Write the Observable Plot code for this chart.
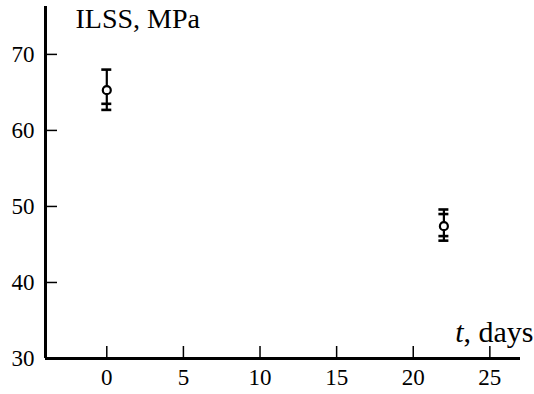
<!DOCTYPE html>
<html>
<head>
<meta charset="utf-8">
<script src="https://cdn.jsdelivr.net/npm/d3@7"></script>
<script src="https://cdn.jsdelivr.net/npm/@observablehq/plot@0.6"></script>
<style>
  html, body { margin: 0; padding: 0; background: #fff; }
</style>
</head>
<body>
<div id="chart"></div>
<script>
const days = [0, 22];
const ilss = [65.3, 47.4];
const errLow = [62.7, 45.5];
const errHigh = [68.0, 49.6];
const errLow2 = [63.5, 46.1];
const errHigh2 = [null, 49.0];
const xTicks = [0, 5, 10, 15, 20, 25];
const yTicks = [30, 40, 50, 60, 70];
const yLabel = "ILSS, MPa";
const xLabelVar = "t";
const xLabelRest = ", days";

const xDomain = [-4, 27];
const yDomain = [30, 76.3];

const data = days.map((d, i) => ({day: d, v: ilss[i], lo: errLow[i], hi: errHigh[i]}));
const caps = days.flatMap((d, i) => [
  {day: d, y: errLow[i]}, {day: d, y: errHigh[i]},
  {day: d, y: errLow2[i]}, {day: d, y: errHigh2[i]}
]).filter(c => c.y != null);

const font = "'Liberation Serif', 'Times New Roman', serif";

const plot = Plot.plot({
  width: 534,
  height: 394,
  marginLeft: 45,
  marginRight: 14,
  marginTop: 6,
  marginBottom: 36,
  style: {fontFamily: font, color: "#000", background: "#fff"},
  x: {domain: xDomain},
  y: {domain: yDomain},
  marks: [
    Plot.axisX(xTicks, {tickSize: -12, tickPadding: 22, strokeWidth: 1.5, fontSize: 23, label: null}),
    Plot.axisY(yTicks, {tickSize: -12, tickPadding: 23, strokeWidth: 1.5, fontSize: 23, label: null}),
    Plot.ruleX([xDomain[0]], {strokeWidth: 3, stroke: "#000"}),
    Plot.ruleY([yDomain[0]], {strokeWidth: 3, stroke: "#000"}),
    Plot.ruleX(data, {x: "day", y1: "lo", y2: "hi", strokeWidth: 2.2, stroke: "#000"}),
    Plot.ruleY(caps, {y: "y", x1: "day", x2: "day", insetLeft: -5, insetRight: -5, strokeWidth: 2.6, stroke: "#000"}),
    Plot.dot(data, {x: "day", y: "v", r: 4, fill: "#fff", stroke: "#000", strokeWidth: 2.2}),
    Plot.text([yLabel], {frameAnchor: "top-left", text: d => d, dx: 30, dy: 2, fontSize: 28, textAnchor: "start", lineAnchor: "top", fill: "#000"}),
    Plot.text([xLabelRest], {frameAnchor: "bottom-right", text: d => d, dx: 13, dy: -17, fontSize: 30, textAnchor: "end", lineAnchor: "bottom", fill: "#000"}),
    Plot.text([xLabelVar], {frameAnchor: "bottom-right", text: d => d, dx: -57, dy: -17, fontSize: 30, fontStyle: "italic", textAnchor: "end", lineAnchor: "bottom", fill: "#000"})
  ]
});

document.getElementById("chart").appendChild(plot);
</script>
</body>
</html>
